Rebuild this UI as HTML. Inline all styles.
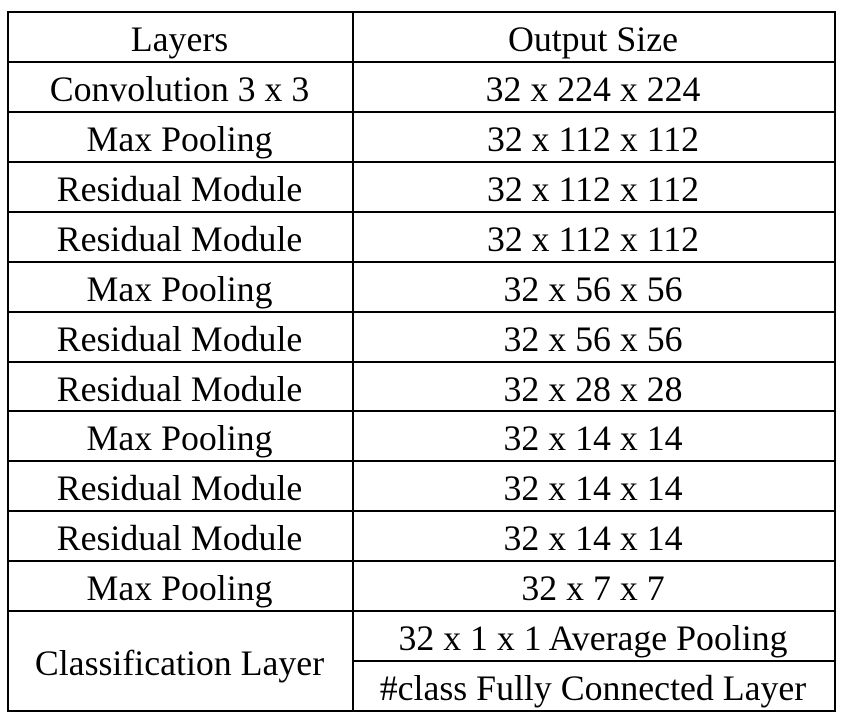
<!DOCTYPE html>
<html><head><meta charset="utf-8"><style>
html,body{margin:0;padding:0;background:#fff;}
#t{position:relative;width:842px;height:725px;font-family:"Liberation Serif","Times New Roman",serif;font-size:35.8px;color:#000;}
.h{position:absolute;height:2px;background:#000;}
.v{position:absolute;width:2px;background:#000;}
.c{position:absolute;text-align:center;line-height:50px;height:50px;white-space:nowrap;}
</style></head><body>
<div id="t"></div>
<script>
const layers=["Layers","Convolution 3 x 3","Max Pooling","Residual Module","Residual Module","Max Pooling","Residual Module","Residual Module","Max Pooling","Residual Module","Residual Module","Max Pooling"];
const sizes=["Output Size","32 x 224 x 224","32 x 112 x 112","32 x 112 x 112","32 x 112 x 112","32 x 56 x 56","32 x 56 x 56","32 x 28 x 28","32 x 14 x 14","32 x 14 x 14","32 x 14 x 14","32 x 7 x 7"];
const lastLeft="Classification Layer";
const lastRight=["32 x 1 x 1 Average Pooling","#class Fully Connected Layer"];
const t=document.getElementById('t');
const L=7,R=834,D=352,T=11,RH=49.93;
function line(cls,x,y,w,h,name){const d=document.createElement('div');d.className=cls;d.style.left=x+'px';d.style.top=y+'px';if(w)d.style.width=w+'px';if(h)d.style.height=h+'px';


t.appendChild(d);}
function cell(txt,x,y,w,h,name){const d=document.createElement('div');d.className='c';d.style.left=x+'px';d.style.top=(y+4)+'px';d.style.width=w+'px';d.style.height=h+'px';d.style.lineHeight=h+'px';d.textContent=txt;


t.appendChild(d);}
const n=layers.length+2;
for(let i=0;i<=n;i++){const y=Math.round(T+i*RH);
 if(i===n-1) line('h',D,y,R-D+2,0,'row-line-'+i); else line('h',L,y,R-L+2,0,'row-line-'+i);}
const bot=Math.round(T+n*RH);
line('v',L,T,0,bot-T+2,'left-border');
line('v',D,T,0,bot-T+2,'column-divider');
line('v',R,T,0,bot-T+2,'right-border');
layers.forEach((s,i)=>{const y=Math.round(T+i*RH);cell(s,L,y,D-L,RH,i===0?'layers-header':'layer-name-'+i);});
sizes.forEach((s,i)=>{const y=Math.round(T+i*RH);cell(s,D,y,R-D,RH,i===0?'output-size-header':'output-size-'+i);});
const y0=Math.round(T+layers.length*RH);
cell(lastLeft,L,y0,D-L,RH*2,'classification-layer');
lastRight.forEach((s,i)=>cell(s,D,Math.round(y0+i*RH),R-D,RH,'classification-output-'+i));
</script>
</body></html>
